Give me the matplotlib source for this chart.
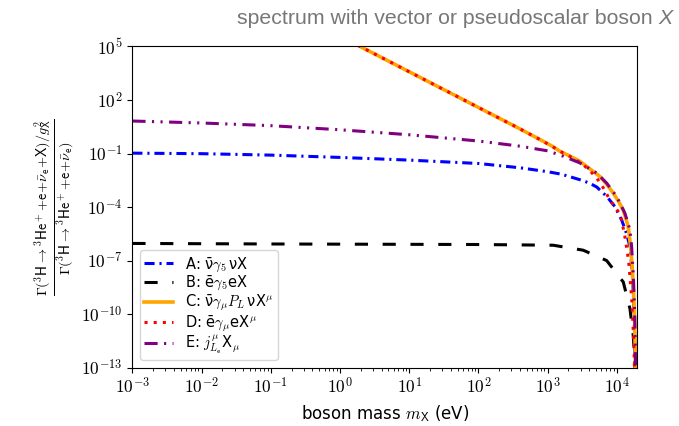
import matplotlib
matplotlib.use("Agg")
import matplotlib.pyplot as plt
import matplotlib.ticker as mticker
import numpy as np

plt.rcParams["mathtext.fontset"] = "cm"
plt.rcParams["font.family"] = ["DejaVu Sans"]

# log10 of boson mass (eV) and log10 of the rate ratio
logm_A = [-3, -2, -1, 0, 1, 2, 2.6, 3.0, 3.2, 3.467, 3.6, 3.71, 3.853, 3.973, 4.07, 4.14, 4.19, 4.22, 4.24, 4.255, 4.265]
logr_A = [-0.98, -1.01, -1.09, -1.22, -1.37, -1.56, -1.8, -2.02, -2.16, -2.47, -2.65, -2.88, -3.4, -3.98, -4.73, -5.48, -6.23, -7.5, -9.0, -11.0, -14]

logm_B = [-3, -1, 1, 2, 3.08, 3.515, 3.853, 4.093, 4.19, 4.237, 4.26, 4.268]
logr_B = [-6.04, -6.07, -6.09, -6.1, -6.14, -6.42, -7.0, -8.2, -9.7, -11.2, -12.6, -14]

logm_C = [-3, -1, 0, 1, 2, 2.6, 2.9, 3.08, 3.178, 3.32, 3.467, 3.6, 3.756, 3.85, 3.948, 4.02, 4.093, 4.165, 4.2, 4.225, 4.245, 4.258, 4.268, 4.272]
logr_C = [11.58, 7.58, 5.58, 3.58, 1.58, 0.38, -0.24, -0.62, -0.88, -1.14, -1.44, -1.83, -2.29, -2.7, -3.22, -3.65, -4.17, -5.1, -6.23, -7.5, -9.0, -10.5, -12.5, -14]

logm_D = [-3, -1, 0, 1, 2, 2.6, 2.9, 3.08, 3.225, 3.37, 3.515, 3.62, 3.71, 3.78, 3.9, 4.02, 4.07, 4.117, 4.17, 4.214, 4.237, 4.252, 4.26]
logr_D = [11.58, 7.58, 5.58, 3.58, 1.58, 0.38, -0.24, -0.64, -0.97, -1.26, -1.63, -2.0, -2.38, -2.76, -3.6, -4.26, -4.73, -5.67, -7.0, -9.05, -10.93, -12.5, -14]

logm_E = [-3, -2, -1, 0, 1, 2, 2.6, 3.0, 3.225, 3.467, 3.71, 3.853, 3.997, 4.117, 4.19, 4.214, 4.24, 4.258, 4.268, 4.272]
logr_E = [0.82, 0.71, 0.56, 0.33, 0.05, -0.3, -0.59, -0.85, -1.15, -1.53, -2.10, -2.66, -3.41, -4.35, -5.29, -6.23, -8.0, -10.0, -12.0, -14]

yticks_exp = [-13, -10, -7, -4, -1, 2, 5]

labels = [
    r"A: ν̄$\gamma_5\,$νX",
    r"B: ē$\gamma_5$eX",
    r"C: ν̄$\gamma_\mu P_L\,$νX$^\mu$",
    r"D: ē$\gamma_\mu$eX$^\mu$",
    r"E: $j^\mu_{L_\mathsf{e}}$X$_\mu$",
]

fig = plt.figure(figsize=(6.79, 4.26), dpi=100)
ax = fig.add_axes([0.195, 0.137, 0.743, 0.754])

ax.plot(10**np.array(logm_A), 10**np.array(logr_A), color="blue", lw=2.2,
        dashes=(3.3, 1.6, 0.7, 1.6), label=labels[0])
ax.plot(10**np.array(logm_B), 10**np.array(logr_B), color="black", lw=2.2,
        dashes=(4.3, 4.8), label=labels[1])
ax.plot(10**np.array(logm_C), 10**np.array(logr_C), color="orange", lw=2.6,
        label=labels[2])
ax.plot(10**np.array(logm_D), 10**np.array(logr_D), color="red", lw=2.2,
        dashes=(1, 2.0), label=labels[3])
ax.plot(10**np.array(logm_E), 10**np.array(logr_E), color="purple", lw=2.2,
        dashes=(4.3, 2.1, 0.7, 2.1, 0.7, 2.1), label=labels[4])

ax.set_xscale("log")
ax.set_yscale("log")
ax.set_xlim(1e-3, 1.95e4)
ax.set_ylim(1e-13, 1e5)
ax.set_yticks([10.0**k for k in yticks_exp])
ax.yaxis.set_minor_locator(mticker.NullLocator())
ax.xaxis.set_major_locator(mticker.LogLocator(base=10, numticks=20))
ax.xaxis.set_minor_locator(mticker.LogLocator(base=10, subs=np.arange(2, 10), numticks=20))
ax.xaxis.set_minor_formatter(mticker.NullFormatter())
cm_fmt = mticker.FuncFormatter(lambda v, p: r"$10^{%d}$" % int(round(np.log10(v))))
ax.xaxis.set_major_formatter(cm_fmt)
ax.yaxis.set_major_formatter(cm_fmt)
ax.tick_params(labelsize=12.5)

ax.set_xlabel(r"boson mass $m_\mathsf{X}$ (eV)", fontsize=12)
ax.set_ylabel(r"$\frac{\Gamma(^3\mathsf{H}\to{}^3\mathsf{He}^+\!+\!\mathsf{e}\!+\!\bar{\mathsf{\nu}}_\mathsf{e}\!+\!\mathsf{X})/g_\mathsf{X}^2}"
              r"{\Gamma(^3\mathsf{H}\to{}^3\mathsf{He}^+\!+\!\mathsf{e}\!+\!\bar{\mathsf{\nu}}_\mathsf{e})}$", fontsize=14.5)

ax.legend(loc="lower left", fontsize=10.5, framealpha=0.8, labelspacing=0.0,
          borderpad=0.3)

# title: grey sans text with italic X at the end
t1 = fig.text(237 / 679, 1 - 19 / 426, "spectrum with vector or pseudoscalar boson ",
              fontsize=15.3, family="Liberation Sans", color="#777777", va="center", ha="left")
fig.canvas.draw()
bb = t1.get_window_extent()
fig.text(bb.x1 / fig.bbox.width, 1 - 19 / 426, "X", fontsize=15.3, family="Liberation Sans",
         style="italic", color="#777777", va="center", ha="left")

fig.savefig("out.png", dpi=100)
